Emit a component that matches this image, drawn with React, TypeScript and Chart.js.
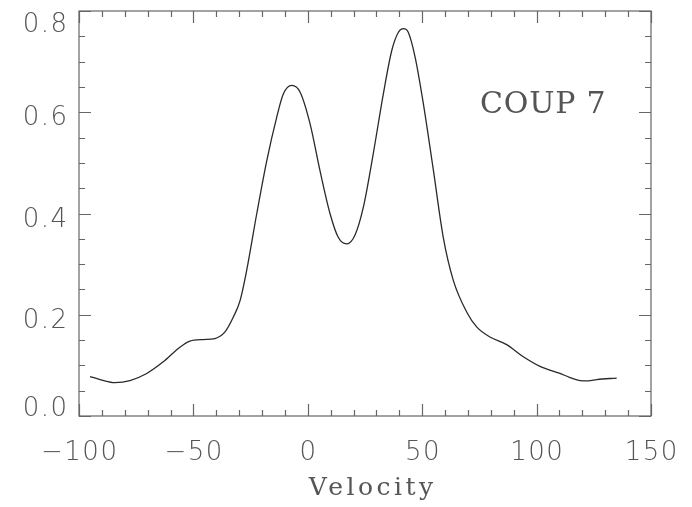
import { useEffect, useRef } from "react";
import { Chart, registerables } from "chart.js";

Chart.register(...registerables);

// Velocity (x) and line profile (y)
const velocity = [
  -95.2, -90, -84.3, -77.7, -70.4, -63.2, -55.9, -51.5, -45.7, -40.6, -36.2, -32.6,
  -29.6, -26.7, -22.3, -17.9, -13.6, -10.7, -7.0, -3.4, 1.0, 5.3, 9.7, 13.3, 17.0,
  20.6, 24.3, 28.6, 33.0, 36.7, 39.6, 41.8, 43.9, 46.9, 50.5, 54.9, 59.2, 63.6,
  69.5, 73.8, 79.6, 86.9, 94.2, 101.5, 110.2, 114.6, 119.0, 122.6, 126.3, 135.0,
];
const flux = [
  0.078, 0.071, 0.066, 0.070, 0.084, 0.107, 0.136, 0.148, 0.151, 0.153, 0.166, 0.195,
  0.228, 0.288, 0.40, 0.505, 0.59, 0.636, 0.653, 0.64, 0.577, 0.485, 0.40, 0.353, 0.340,
  0.357, 0.413, 0.518, 0.636, 0.722, 0.758, 0.765, 0.758, 0.709, 0.617, 0.485, 0.353, 0.268,
  0.205, 0.176, 0.156, 0.141, 0.117, 0.098, 0.084, 0.076, 0.070, 0.0695, 0.072, 0.075,
];

const xTickLabels = [-100, -50, 0, 50, 100, 150];
const yTickLabels = [0.0, 0.2, 0.4, 0.6, 0.8];
const xMinorStep = 10;
const yMinorStep = 0.05;
const xTitle = "Velocity";
const annotation = "COUP 7";

const AXIS_COLOR = "#666";
const TEXT_COLOR = "#555";

const fmtX = (v: number) => (v < 0 ? "\u2212" + Math.abs(v) : String(v));

const idlFrame = {
  id: "idlFrame",
  afterDraw(chart: any) {
    const ctx = chart.ctx as CanvasRenderingContext2D;
    const { left, right, top, bottom } = chart.chartArea;
    const xs = chart.scales.x;
    const ys = chart.scales.y;
    ctx.save();
    // frame
    ctx.strokeStyle = AXIS_COLOR;
    ctx.lineWidth = 1.2;
    ctx.strokeRect(left, top, right - left, bottom - top);

    // x ticks (bottom and top, pointing inward)
    const nx = Math.round((xs.max - xs.min) / xMinorStep);
    ctx.beginPath();
    for (let i = 0; i <= nx; i++) {
      const v = xs.min + i * xMinorStep;
      const px = Math.round(xs.getPixelForValue(v)) + 0.5;
      const len = Math.abs(v % 50) < 1e-6 ? 12 : 6;
      ctx.moveTo(px, bottom);
      ctx.lineTo(px, bottom - len);
      ctx.moveTo(px, top);
      ctx.lineTo(px, top + len);
    }
    // y ticks (left and right)
    const ny = Math.round((ys.max - ys.min) / yMinorStep);
    for (let i = 0; i <= ny; i++) {
      const v = ys.min + i * yMinorStep;
      const py = Math.round(ys.getPixelForValue(v)) + 0.5;
      const len = i % 4 === 0 ? 12 : 6;
      ctx.moveTo(left, py);
      ctx.lineTo(left + len, py);
      ctx.moveTo(right, py);
      ctx.lineTo(right - len, py);
    }
    ctx.stroke();

    // tick labels
    ctx.fillStyle = TEXT_COLOR;
    ctx.font = "200 26px 'DejaVu Sans'";
    (ctx as any).letterSpacing = "1.5px";
    ctx.textBaseline = "alphabetic";
    ctx.textAlign = "left";
    for (const v of xTickLabels) {
      const s = fmtX(v);
      const w = ctx.measureText(s).width - 1.5;
      const px = xs.getPixelForValue(v);
      ctx.fillText(s, px - w / 2, 460);
    }
    for (const v of yTickLabels) {
      const s = v.toFixed(1);
      const w = ctx.measureText(s).width - 1.5;
      const py = ys.getPixelForValue(v);
      const base = Math.min(Math.max(py + 13, top + 21), bottom);
      ctx.fillText(s, 67 - w, base);
    }

    // axis title
    ctx.font = "25px 'DejaVu Serif'";
    (ctx as any).letterSpacing = "3.5px";
    const tw = ctx.measureText(xTitle).width - 3.5;
    ctx.fillText(xTitle, 371 - tw / 2, 495);

    // annotation
    ctx.font = "30px 'DejaVu Serif'";
    (ctx as any).letterSpacing = "0.8px";
    ctx.fillText(annotation, 480, 113);
    ctx.restore();
  },
};

export default function App() {
  const ref = useRef<HTMLCanvasElement>(null);
  useEffect(() => {
    if (!ref.current) return;
    const chart = new Chart(ref.current, {
      type: "scatter",
      data: {
        datasets: [
          {
            data: velocity.map((v, i) => ({ x: v, y: flux[i] })),
            showLine: true,
            borderColor: "#2a2a2a",
            borderWidth: 1.3,
            pointRadius: 0,
            cubicInterpolationMode: "monotone",
            fill: false,
          },
        ],
      },
      options: {
        animation: false,
        responsive: false,
        events: [],
        layout: { padding: { left: 79, top: 11, right: 41, bottom: 91 } },
        plugins: { legend: { display: false }, tooltip: { enabled: false } },
        scales: {
          x: { type: "linear", min: -100, max: 150, display: false },
          y: { type: "linear", min: 0, max: 0.8, display: false },
        },
      },
      plugins: [idlFrame],
    });
    return () => chart.destroy();
  }, []);
  return (
    <div style={{ position: "fixed", left: 0, top: 0, width: 692, height: 507, background: "#fff" }}>
      <canvas ref={ref} width={692} height={507} style={{ display: "block", width: 692, height: 507 }} />
    </div>
  );
}
